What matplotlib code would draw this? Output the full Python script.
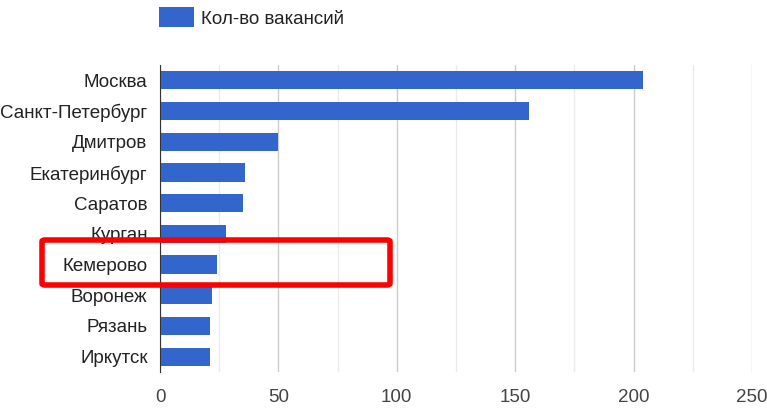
import matplotlib.pyplot as plt
from matplotlib.patches import FancyBboxPatch

cities = ['Москва', 'Санкт-Петербург', 'Дмитров', 'Екатеринбург', 'Саратов',
          'Курган', 'Кемерово', 'Воронеж', 'Рязань', 'Иркутск']
vacancies = [204, 156, 50, 36, 35, 28, 24, 22, 21, 21]
xticks = [0, 50, 100, 150, 200, 250]
legend_label = 'Кол-во вакансий'

plt.rcParams['font.family'] = ['Liberation Sans', 'DejaVu Sans']

fig = plt.figure(figsize=(7.67, 4.08), dpi=100)
ax = fig.add_axes([160 / 767, 1 - 372 / 408, (752 - 160) / 767, (372 - 65) / 408])

ypos = list(range(len(cities)))
ax.barh(ypos, vacancies, height=0.59, color='#3366cc', label=legend_label, zorder=3)
ax.set_ylim(len(cities) - 0.5, -0.5)
ax.set_xlim(0, 250)

ax.set_xticks(xticks)
ax.set_xticks([25, 75, 125, 175, 225], minor=True)
ax.grid(axis='x', which='major', color='#cccccc', linewidth=1, zorder=0)
ax.grid(axis='x', which='minor', color='#ebebeb', linewidth=1, zorder=0)
ax.set_yticks(ypos)
ax.set_yticklabels(cities)
ax.tick_params(axis='both', which='both', length=0, labelsize=13.5, colors='#222222')
ax.tick_params(axis='x', pad=12, labelcolor='#444444')
ax.tick_params(axis='y', pad=9)

for side in ['top', 'right', 'bottom']:
    ax.spines[side].set_visible(False)
ax.spines['left'].set_color('#333333')
ax.spines['left'].set_zorder(4)

leg = fig.legend(loc='upper left', bbox_to_anchor=(159 / 767, 1 - 7 / 408), frameon=False,
                 fontsize=13.5, borderpad=0, borderaxespad=0,
                 handlelength=1.85, handleheight=1.3, handletextpad=0.4)
for t in leg.get_texts():
    t.set_color('#222222')

# red highlight around Кемерово
box = FancyBboxPatch((42 / 767, 1 - 285 / 408), (390 - 42) / 767, (285 - 240) / 408,
                     boxstyle='round,pad=0,rounding_size=0.004', transform=fig.transFigure,
                     fill=False, edgecolor='#ff0000', linewidth=4, zorder=10)
fig.patches.append(box)

fig.savefig('out.png', dpi=100)
